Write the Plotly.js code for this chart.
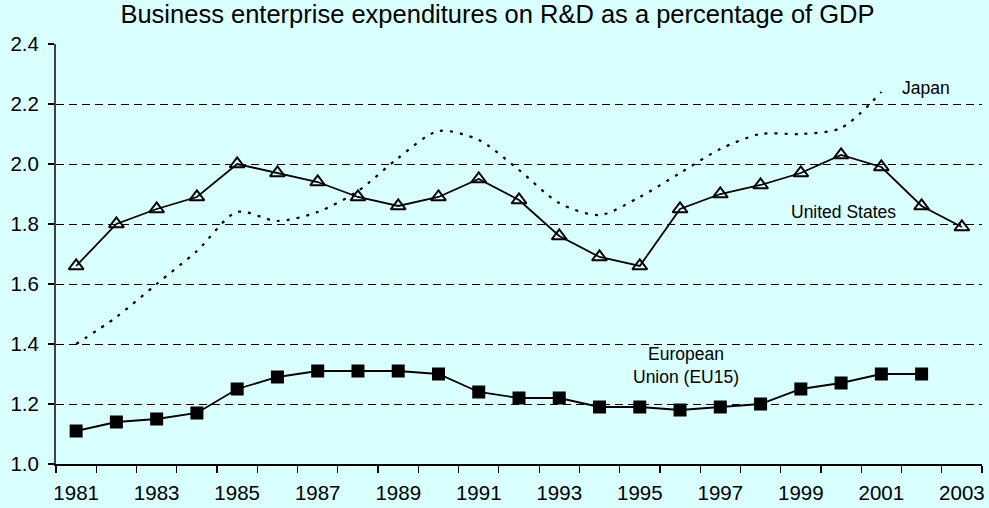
<!DOCTYPE html>
<html>
<head>
<meta charset="utf-8">
<script src="https://cdn.plot.ly/plotly-3.0.1.min.js"></script>
<style>
html,body{margin:0;padding:0;background:#D9FFFF;}
#chart{width:989px;height:508px;}
</style>
</head>
<body>
<div id="chart"></div>
<script>
const years = [1981,1982,1983,1984,1985,1986,1987,1988,1989,1990,1991,1992,1993,1994,1995,1996,1997,1998,1999,2000,2001,2002,2003];
const unitedStates = [1.66,1.80,1.85,1.89,2.00,1.97,1.94,1.89,1.86,1.89,1.95,1.88,1.76,1.69,1.66,1.85,1.90,1.93,1.97,2.03,1.99,1.86,1.79];
const euro15 = [1.11,1.14,1.15,1.17,1.25,1.29,1.31,1.31,1.31,1.30,1.24,1.22,1.22,1.19,1.19,1.18,1.19,1.20,1.25,1.27,1.30,1.30,null];
const japan = [1.40,1.49,1.60,1.71,1.84,1.81,1.84,1.91,2.02,2.11,2.08,1.98,1.87,1.83,1.89,1.97,2.05,2.10,2.10,2.12,2.24,null,null];
const yTicks = [1.0,1.2,1.4,1.6,1.8,2.0,2.2,2.4];
const yTickText = ['1.0','1.2','1.4','1.6','1.8','2.0','2.2','2.4'];
const xLabelYears = [1981,1983,1985,1987,1989,1991,1993,1995,1997,1999,2001,2003];

const font = 'Liberation Sans, Arial, sans-serif';

const traces = [
  {x: years, y: japan, type: 'scatter', mode: 'lines', name: 'Japan',
   line: {color: '#000', width: 2.2, dash: '3px,7px', shape: 'spline', smoothing: 0.8},
   connectgaps: false, hoverinfo: 'skip'},
  {x: years, y: unitedStates, type: 'scatter', mode: 'lines+markers', name: 'United States',
   line: {color: '#000', width: 1.8},
   marker: {symbol: 'triangle-up-open', size: 13, color: '#000', line: {width: 2, color: '#000'}}},
  {x: years, y: euro15, type: 'scatter', mode: 'lines+markers', name: 'European Union (EU15)',
   line: {color: '#000', width: 1.8},
   marker: {symbol: 'square', size: 13, color: '#000', line: {width: 0}}}
];

const layout = {
  width: 989, height: 508,
  paper_bgcolor: '#D9FFFF', plot_bgcolor: '#D9FFFF',
  margin: {l: 56, r: 7, t: 44, b: 44},
  showlegend: false,
  font: {family: font, color: '#000', size: 19},
  title: {text: 'Business enterprise expenditures on R&D as a percentage of GDP',
          font: {family: font, size: 25.5, color: '#000'},
          x: 0.503, xanchor: 'center', y: 0.99, yanchor: 'top'},
  xaxis: {
    range: [1980.5, 2003.5], tickmode: 'array', tickvals: xLabelYears,
    ticktext: xLabelYears.map(String), ticks: '', showgrid: false, zeroline: false,
    showline: true, linecolor: '#000', linewidth: 1.5,
    tickfont: {family: font, size: 20.5, color: '#000'}, ticklabelstandoff: 10,
    minor: {tick0: 1980.5, dtick: 1, ticks: 'outside', ticklen: 7, tickwidth: 1.2, tickcolor: '#000', showgrid: false}
  },
  yaxis: {
    range: [1.0, 2.4], tickmode: 'array', tickvals: yTicks, ticktext: yTickText,
    ticks: 'outside', ticklen: 6, tickwidth: 1.2, tickcolor: '#000',
    showline: true, linecolor: '#404040', linewidth: 2, zeroline: false,
    showgrid: true, gridcolor: '#000', gridwidth: 1, griddash: '8px,5px',
    tickfont: {family: font, size: 20.5, color: '#000'}, ticklabelstandoff: 5
  },
  annotations: [
    {x: 2001.46, y: 2.253, xref: 'x', yref: 'y', text: 'Japan', showarrow: false,
     xanchor: 'left', yanchor: 'middle', font: {family: font, size: 17.5, color: '#000'}},
    {x: 2000.05, y: 1.84, xref: 'x', yref: 'y', text: 'United States', showarrow: false,
     xanchor: 'center', yanchor: 'middle', font: {family: font, size: 17.5, color: '#000'}},
    {x: 1996.15, y: 1.328, xref: 'x', yref: 'y', text: 'European<br>Union (EU15)', showarrow: false,
     xanchor: 'center', yanchor: 'middle', align: 'center', font: {family: font, size: 17.5, color: '#000'}}
  ]
};

Plotly.newPlot('chart', traces, layout, {displayModeBar: false, staticPlot: true});
</script>
</body>
</html>
